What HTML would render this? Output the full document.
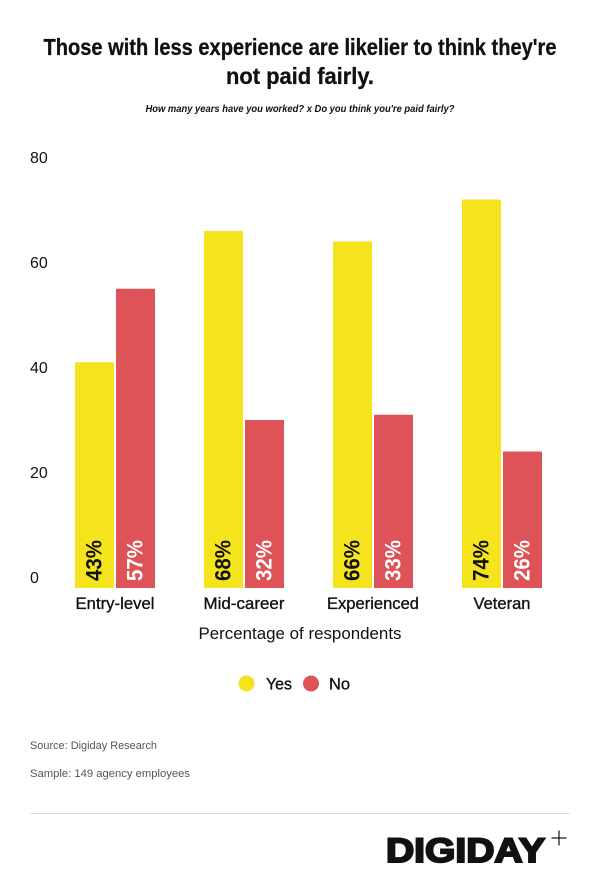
<!DOCTYPE html>
<html>
<head>
<meta charset="utf-8">
<style>
  html, body { margin: 0; padding: 0; background: #ffffff; }
  body { width: 600px; height: 883px; overflow: hidden; }
  svg { display: block; }
  text { font-family: "Liberation Sans", "DejaVu Sans", sans-serif; }
</style>
</head>
<body>
<svg width="600" height="883" viewBox="0 0 600 883" xmlns="http://www.w3.org/2000/svg">
  <rect x="0" y="0" width="600" height="883" fill="#ffffff"/>

  <!-- Title -->
  <text x="300" y="55" text-anchor="middle" font-size="23" font-weight="bold" fill="#111" stroke="#111" stroke-width="0.3" textLength="513" lengthAdjust="spacingAndGlyphs">Those with less experience are likelier to think they're</text>
  <text x="300" y="84" text-anchor="middle" font-size="23" font-weight="bold" fill="#111" stroke="#111" stroke-width="0.3" textLength="148" lengthAdjust="spacingAndGlyphs">not paid fairly.</text>

  <!-- Subtitle -->
  <text x="300" y="112" text-anchor="middle" font-size="10.5" font-style="italic" font-weight="bold" fill="#111" textLength="309" lengthAdjust="spacingAndGlyphs">How many years have you worked? x Do you think you're paid fairly?</text>

  <!-- Y tick labels -->
  <g font-size="16" fill="#111">
    <text x="30" y="163">80</text>
    <text x="30" y="268">60</text>
    <text x="30" y="373">40</text>
    <text x="30" y="478">20</text>
    <text x="30" y="583">0</text>
  </g>

  <!-- Bars -->
  <g>
    <rect x="75" y="362.25" width="39" height="225.75" fill="#f5e31d"/>
    <rect x="116" y="288.75" width="39" height="299.25" fill="#dd5357"/>

    <rect x="204" y="231" width="39" height="357" fill="#f5e31d"/>
    <rect x="245" y="420" width="39" height="168" fill="#dd5357"/>

    <rect x="333" y="241.5" width="39" height="346.5" fill="#f5e31d"/>
    <rect x="374" y="414.75" width="39" height="173.25" fill="#dd5357"/>

    <rect x="462" y="199.5" width="39" height="388.5" fill="#f5e31d"/>
    <rect x="503" y="451.5" width="39" height="136.5" fill="#dd5357"/>
  </g>

  <!-- Bar value labels (rotated) -->
  <g font-size="22" font-weight="bold">
    <text transform="translate(101.5,581) rotate(-90)" fill="#111" textLength="41" lengthAdjust="spacingAndGlyphs">43%</text>
    <text transform="translate(142.5,581) rotate(-90)" fill="#ffffff" textLength="41" lengthAdjust="spacingAndGlyphs">57%</text>

    <text transform="translate(230.5,581) rotate(-90)" fill="#111" textLength="41" lengthAdjust="spacingAndGlyphs">68%</text>
    <text transform="translate(271.5,581) rotate(-90)" fill="#ffffff" textLength="41" lengthAdjust="spacingAndGlyphs">32%</text>

    <text transform="translate(359.5,581) rotate(-90)" fill="#111" textLength="41" lengthAdjust="spacingAndGlyphs">66%</text>
    <text transform="translate(400.5,581) rotate(-90)" fill="#ffffff" textLength="41" lengthAdjust="spacingAndGlyphs">33%</text>

    <text transform="translate(488.5,581) rotate(-90)" fill="#111" textLength="41" lengthAdjust="spacingAndGlyphs">74%</text>
    <text transform="translate(529.5,581) rotate(-90)" fill="#ffffff" textLength="41" lengthAdjust="spacingAndGlyphs">26%</text>
  </g>

  <!-- X category labels -->
  <g font-size="17" fill="#111" stroke="#111" stroke-width="0.35" text-anchor="middle">
    <text x="115" y="609" textLength="79" lengthAdjust="spacingAndGlyphs">Entry-level</text>
    <text x="244" y="609" textLength="81" lengthAdjust="spacingAndGlyphs">Mid-career</text>
    <text x="373" y="609" textLength="92" lengthAdjust="spacingAndGlyphs">Experienced</text>
    <text x="502" y="609" textLength="57" lengthAdjust="spacingAndGlyphs">Veteran</text>
  </g>

  <!-- Axis title -->
  <text x="300" y="639" text-anchor="middle" font-size="17" fill="#111" textLength="203" lengthAdjust="spacingAndGlyphs">Percentage of respondents</text>

  <!-- Legend -->
  <circle cx="246.5" cy="683.5" r="8" fill="#f5e31d"/>
  <text x="266" y="689.5" font-size="17" fill="#111" stroke="#111" stroke-width="0.35" textLength="26" lengthAdjust="spacingAndGlyphs">Yes</text>
  <circle cx="311" cy="683.5" r="8" fill="#dd5357"/>
  <text x="329" y="689.5" font-size="17" fill="#111" stroke="#111" stroke-width="0.35" textLength="21" lengthAdjust="spacingAndGlyphs">No</text>

  <!-- Source notes -->
  <text x="30" y="749" font-size="11" fill="#555" textLength="127" lengthAdjust="spacingAndGlyphs">Source: Digiday Research</text>
  <text x="30" y="777" font-size="11" fill="#555" textLength="160" lengthAdjust="spacingAndGlyphs">Sample: 149 agency employees</text>

  <!-- Divider -->
  <line x1="30" y1="813.5" x2="570" y2="813.5" stroke="#dddddd" stroke-width="1"/>

  <!-- Logo -->
  <text x="386" y="862" font-size="34" font-weight="bold" fill="#111" stroke="#111" stroke-width="2" textLength="159" lengthAdjust="spacingAndGlyphs">DIGIDAY</text>
  <line x1="551.5" y1="838" x2="566.5" y2="838" stroke="#111" stroke-width="1.2"/>
  <line x1="559" y1="830.5" x2="559" y2="845.5" stroke="#111" stroke-width="1.2"/>
</svg>
</body>
</html>
